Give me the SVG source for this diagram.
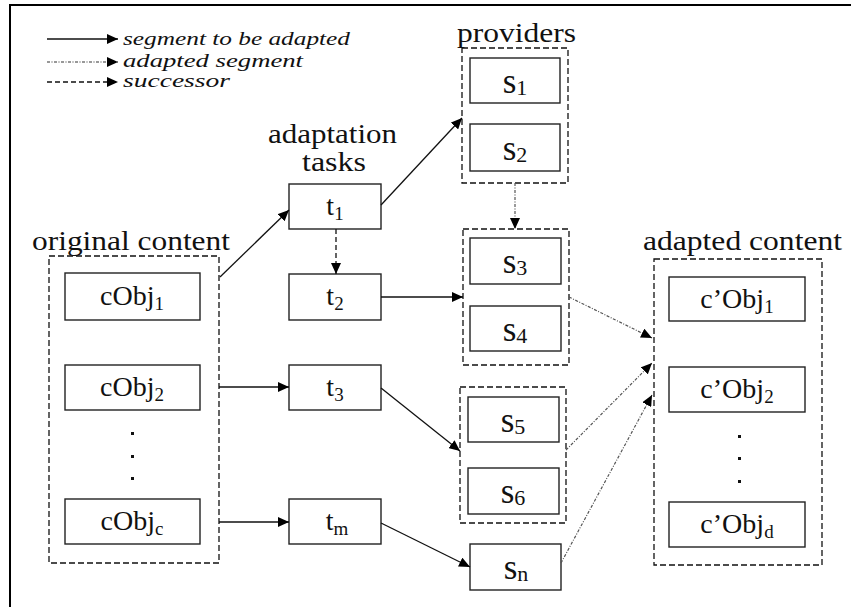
<svg xmlns="http://www.w3.org/2000/svg" width="851" height="607" viewBox="0 0 851 607">
  <style>
    .bg { fill: #ffffff; }
    .frame { stroke: #000; stroke-width: 2; fill: none; }
    .box { fill: #fff; stroke: #222; stroke-width: 1.4; }
    .group { fill: none; stroke: #111; stroke-width: 1.3; stroke-dasharray: 6 3; }
    .lbl { font-family: "Liberation Serif", "Times New Roman", serif; font-size: 27px; fill: #111; }
    .legend { font-family: "Liberation Serif", "Times New Roman", serif; font-size: 19px; font-style: italic; fill: #111; }
    .bt { font-family: "Liberation Serif", "Times New Roman", serif; font-size: 28px; fill: #111; text-anchor: middle; }
    .st { font-family: "Liberation Serif", "Times New Roman", serif; font-size: 35px; fill: #111; text-anchor: middle; }
    .sub { font-size: 19px; }
    .ssub { font-size: 22px; }
    .dot { fill: #111; }
    .seg { stroke: #111; stroke-width: 1.3; fill: none; marker-end: url(#head); }
    .succ { stroke: #111; stroke-width: 1.3; fill: none; stroke-dasharray: 5 3; marker-end: url(#head); }
    .adapted { stroke: #555; stroke-width: 1.2; fill: none; stroke-dasharray: 3 1.5 1 1.5; marker-end: url(#head); }
  </style>
  <defs>
    <marker id="head" markerUnits="userSpaceOnUse" markerWidth="12" markerHeight="10" refX="11" refY="5" orient="auto">
      <path d="M0,0 L11,5 L0,10 Z" fill="#000"/>
    </marker>
  </defs>

  <rect class="bg" x="0" y="0" width="851" height="607"/>
  <path class="frame" d="M10,607 L10,5 L851,5"/>

  <!-- legend -->
  <g id="legend">
    <line class="seg" x1="47" y1="39" x2="118" y2="39"/>
    <line class="adapted" x1="47" y1="62" x2="118" y2="62" style="stroke:#333"/>
    <line class="succ" x1="47" y1="82" x2="118" y2="82"/>
    <text class="legend" x="123" y="45" textLength="227" lengthAdjust="spacingAndGlyphs">segment to be adapted</text>
    <text class="legend" x="123" y="67" textLength="180" lengthAdjust="spacingAndGlyphs">adapted segment</text>
    <text class="legend" x="123" y="87" textLength="107" lengthAdjust="spacingAndGlyphs">successor</text>
  </g>

  <!-- original content -->
  <g id="original-content">
    <text class="lbl" x="32" y="250" textLength="198" lengthAdjust="spacingAndGlyphs">original content</text>
    <rect class="group" x="49" y="256" width="170" height="307"/>
  </g>
  <g id="cObj1">
    <rect class="box" x="65" y="273" width="135" height="47"/>
    <text class="bt" x="132" y="305">cObj<tspan class="sub" dy="5">1</tspan></text>
  </g>
  <g id="cObj2">
    <rect class="box" x="65" y="365" width="135" height="45"/>
    <text class="bt" x="132" y="396">cObj<tspan class="sub" dy="5">2</tspan></text>
  </g>
  <g id="cObj-dots">
    <rect class="dot" x="131" y="432" width="3" height="3"/>
    <rect class="dot" x="131" y="455" width="3" height="3"/>
    <rect class="dot" x="131" y="477" width="3" height="3"/>
  </g>
  <g id="cObjc">
    <rect class="box" x="65" y="499" width="135" height="45"/>
    <text class="bt" x="132" y="530">cObj<tspan class="sub" dy="5">c</tspan></text>
  </g>

  <!-- adaptation tasks -->
  <g id="tasks-label">
    <text class="lbl" x="268" y="143" textLength="129" lengthAdjust="spacingAndGlyphs">adaptation</text>
    <text class="lbl" x="302" y="171" textLength="64" lengthAdjust="spacingAndGlyphs">tasks</text>
  </g>
  <g id="t1">
    <rect class="box" x="289" y="184" width="92" height="45"/>
    <text class="bt" x="335" y="215">t<tspan class="sub" dy="5">1</tspan></text>
  </g>
  <g id="t2">
    <rect class="box" x="289" y="274" width="92" height="46"/>
    <text class="bt" x="335" y="305">t<tspan class="sub" dy="5">2</tspan></text>
  </g>
  <g id="t3">
    <rect class="box" x="289" y="365" width="92" height="45"/>
    <text class="bt" x="335" y="396">t<tspan class="sub" dy="5">3</tspan></text>
  </g>
  <g id="tm">
    <rect class="box" x="289" y="499" width="92" height="45"/>
    <text class="bt" x="337" y="530">t<tspan class="sub" dy="5">m</tspan></text>
  </g>

  <!-- providers -->
  <g id="providers-1">
    <text class="lbl" x="457" y="42" textLength="119" lengthAdjust="spacingAndGlyphs">providers</text>
    <rect class="group" x="462" y="48" width="106" height="135"/>
  </g>
  <g id="s1">
    <rect class="box" x="470" y="58" width="90" height="45"/>
    <text class="st" x="515" y="93">s<tspan class="ssub" dy="2">1</tspan></text>
  </g>
  <g id="s2">
    <rect class="box" x="470" y="124" width="90" height="47"/>
    <text class="st" x="515" y="160">s<tspan class="ssub" dy="2">2</tspan></text>
  </g>
  <g id="providers-2">
    <rect class="group" x="463" y="229" width="106" height="136"/>
  </g>
  <g id="s3">
    <rect class="box" x="470" y="238" width="91" height="46"/>
    <text class="st" x="515" y="273">s<tspan class="ssub" dy="2">3</tspan></text>
  </g>
  <g id="s4">
    <rect class="box" x="470" y="306" width="91" height="45"/>
    <text class="st" x="515" y="341">s<tspan class="ssub" dy="2">4</tspan></text>
  </g>
  <g id="providers-3">
    <rect class="group" x="460" y="387" width="106" height="136"/>
  </g>
  <g id="s5">
    <rect class="box" x="468" y="397" width="91" height="45"/>
    <text class="st" x="513" y="432">s<tspan class="ssub" dy="2">5</tspan></text>
  </g>
  <g id="s6">
    <rect class="box" x="468" y="468" width="91" height="46"/>
    <text class="st" x="513" y="503">s<tspan class="ssub" dy="2">6</tspan></text>
  </g>
  <g id="sn">
    <rect class="box" x="470" y="544" width="91" height="46"/>
    <text class="st" x="516" y="579">s<tspan class="ssub" dy="2">n</tspan></text>
  </g>

  <!-- adapted content -->
  <g id="adapted-content">
    <text class="lbl" x="643" y="250" textLength="199" lengthAdjust="spacingAndGlyphs">adapted content</text>
    <rect class="group" x="654" y="259" width="168" height="306"/>
  </g>
  <g id="cpObj1">
    <rect class="box" x="669" y="277" width="136" height="44"/>
    <text class="bt" x="737" y="308">c’Obj<tspan class="sub" dy="5">1</tspan></text>
  </g>
  <g id="cpObj2">
    <rect class="box" x="669" y="367" width="136" height="45"/>
    <text class="bt" x="737" y="398">c’Obj<tspan class="sub" dy="5">2</tspan></text>
  </g>
  <g id="cpObj-dots">
    <rect class="dot" x="738" y="435" width="3" height="3"/>
    <rect class="dot" x="738" y="457" width="3" height="3"/>
    <rect class="dot" x="738" y="480" width="3" height="3"/>
  </g>
  <g id="cpObjd">
    <rect class="box" x="669" y="502" width="136" height="45"/>
    <text class="bt" x="737" y="533">c’Obj<tspan class="sub" dy="5">d</tspan></text>
  </g>

  <!-- connectors -->
  <g id="connectors">
    <line class="seg" x1="220" y1="277" x2="289" y2="210"/>
    <line class="seg" x1="381" y1="205" x2="462" y2="118"/>
    <line class="seg" x1="381" y1="297" x2="463" y2="297"/>
    <line class="seg" x1="219" y1="387" x2="289" y2="387"/>
    <line class="seg" x1="381" y1="388" x2="460" y2="451"/>
    <line class="seg" x1="219" y1="522" x2="289" y2="522"/>
    <line class="seg" x1="381" y1="523" x2="470" y2="567"/>
    <line class="succ" x1="336" y1="229" x2="336" y2="274"/>
    <line class="adapted" x1="515" y1="183" x2="515" y2="229"/>
    <line class="adapted" x1="569" y1="297" x2="652" y2="338"/>
    <line class="adapted" x1="566" y1="450" x2="652" y2="363"/>
    <line class="adapted" x1="561" y1="563" x2="652" y2="395"/>
  </g>
</svg>
